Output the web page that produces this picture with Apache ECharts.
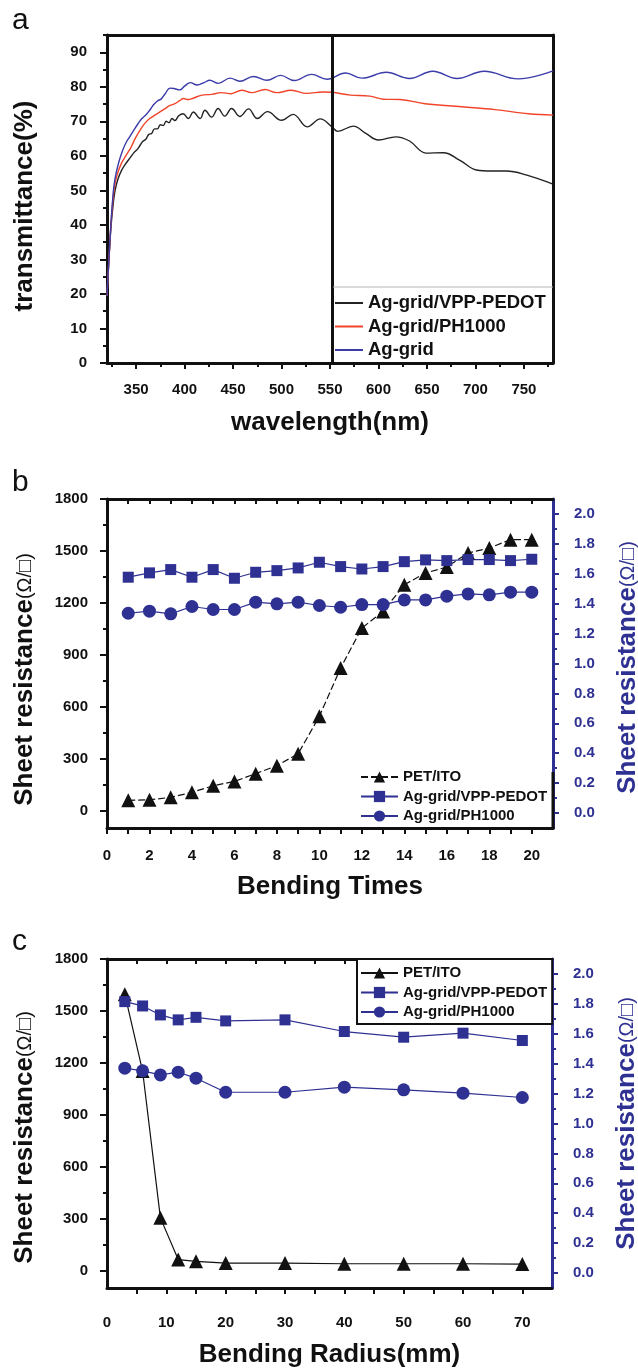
<!DOCTYPE html>
<html>
<head>
<meta charset="utf-8">
<script src="https://cdn.jsdelivr.net/npm/echarts@6/dist/echarts.min.js"></script>
<style>html,body{margin:0;padding:0;background:#fff;}#c{width:638px;height:1369px;}</style>
</head>
<body>
<div id="c"></div>
<script>
// ---------- Panel a: transmittance spectra ----------
const vppPedotWl = [320,322,324,326,328,331,335,340,344,348,351,354,357,360,363,366,369,372,375,378,381,384,387,390,394,398.5,404,409,416,421,428,434.5,441.5,448.5,457,466,475,485.5,500,512,526.5,540,552,558,574,587,600,618,632,649,667,684,701,717,732,753,780];
const vppPedotT  = [19.5,30,39,45,49.5,53,55.8,58,59.5,61,61.8,63,64.2,64.8,66.2,66.5,67.8,67.8,69,68.8,70,69.6,70.8,70.2,71.6,72.2,70.8,72.7,70.8,73.2,71.2,73.7,71.5,73.7,71.4,73.6,70.8,72.8,70.3,72,68.4,70.7,68.4,67.1,68.6,66.5,64.6,65.5,64.3,60.8,60.9,58.7,55.9,55.6,55.6,54.4,51.8];
const ph1000Wl = [320,322,324,326,328,331,335,340,345,349,354,359,364,369.5,375,380,385,390,395,399,404,408,418,428,438,448,459,469,483,495,510,526,543,552,571,591,605,622,648,686,720,755,780];
const ph1000T  = [19.5,30,40,47,51.5,55,57.9,60.3,62.6,65,67.4,69.4,70.8,71.8,72.8,73.7,74.6,75.1,76,76.6,76.3,76.6,77.6,77.8,78.3,78.0,79.0,78.3,79.2,78.3,79,78.1,78.5,78.4,77.6,77.3,76.4,76.3,75.1,74.2,73.4,72.2,71.8];
const agGridWl = [320,322,324,326,328,332,336,340,344,348,352,356,360,364,368,372,376,380,385,389,395,400,406,413,420,426,434.8,446.9,457,471,485,499,513,531,547,566,583,608,632,656,681,709,744,780];
const agGridT  = [19.5,30,40,48,53,58,61.5,64,65.8,67.6,69.3,70.8,71.8,73.2,74.8,75.9,76.5,78,79.6,79.5,79.1,80.2,81.2,80.5,81.2,81.9,81.0,82.5,81.6,83.0,81.9,83.3,81.8,83.6,82.2,84,82.5,84.2,82.4,84.5,82.4,84.5,82.3,84.6];
const dividerWl = 552;
const wlLabels = [350,400,450,500,550,600,650,700,750];
const wlMinor = [325,375,425,475,525,575,625,675,725,775];
const tLabels = [0,10,20,30,40,50,60,70,80,90];
const tMinor = [5,15,25,35,45,55,65,75,85,95];

// ---------- Panel b: bending times ----------
const bendTimes = [1,2,3,4,5,6,7,8,9,10,11,12,13,14,15,16,17,18,19,20];
const petItoB   = [60,63,77,106,144,169,214,260,329,545,824,1055,1151,1305,1373,1407,1488,1517,1565,1565];
const vppPedotB = [1.577,1.606,1.628,1.577,1.628,1.570,1.610,1.621,1.639,1.677,1.648,1.632,1.648,1.681,1.693,1.688,1.695,1.695,1.688,1.697];
const ph1000B   = [1.336,1.350,1.332,1.381,1.361,1.361,1.410,1.399,1.410,1.388,1.376,1.394,1.394,1.425,1.425,1.450,1.465,1.459,1.477,1.477];
const timesLabels = [0,2,4,6,8,10,12,14,16,18,20];
const timesTicks = [0,1,2,3,4,5,6,7,8,9,10,11,12,13,14,15,16,17,18,19,20];

// ---------- Panel c: bending radius ----------
const radius    = [3,6,9,12,15,20,30,40,50,60,70];
const petItoC   = [1597,1153,305,64,54,44,44,40,40,40,38];
const vppPedotC = [1.815,1.786,1.726,1.693,1.710,1.686,1.693,1.615,1.577,1.604,1.555];
const ph1000C   = [1.370,1.352,1.325,1.343,1.303,1.209,1.209,1.243,1.225,1.203,1.174];
const radiusLabels = [0,10,20,30,40,50,60,70];
const radiusTicks = [5,10,15,20,25,30,35,40,45,50,55,60,65,70];

// shared resistance axes
const rLeftLabels = [0,300,600,900,1200,1500,1800];
const rLeftMinor = [150,450,750,1050,1350,1650];
const rRightLabels = [0,0.2,0.4,0.6,0.8,1.0,1.2,1.4,1.6,1.8,2.0];
const rRightMinor = [0.1,0.3,0.5,0.7,0.9,1.1,1.3,1.5,1.7,1.9];

const FONT = '"Liberation Sans", Arial, "DejaVu Sans", sans-serif';
const NAVY = '#2e3192';
const BLACK = '#111';
const zip = (a, b) => a.map((v, i) => [v, b[i]]);

const grids = [
  {left: 107, top: 35, width: 446, height: 328, outerBoundsMode: 'none', containLabel: false},
  {left: 107, top: 499, width: 446, height: 329, outerBoundsMode: 'none', containLabel: false},
  {left: 107, top: 959, width: 445, height: 329, outerBoundsMode: 'none', containLabel: false}
];

function lineOnly(pos, grid, min, max, color) {
  return {type: 'value', gridIndex: grid, position: pos, min, max,
    axisLine: {show: true, onZero: false, lineStyle: {color: color || BLACK, width: 3}},
    axisTick: {show: false}, axisLabel: {show: false}, splitLine: {show: false}};
}
function tickAxis(pos, grid, min, max, ticks, len, inside, color) {
  return {type: 'value', gridIndex: grid, position: pos, min, max,
    axisLine: {show: false, onZero: false},
    axisTick: {show: true, inside: !!inside, length: len, customValues: ticks, lineStyle: {color: color || BLACK, width: 2}},
    axisLabel: {show: false}, splitLine: {show: false}};
}
function mainAxis(pos, grid, min, max, labels, ticks, tickLen, margin, fmt, color, name, nameGap, nameStyle) {
  const c = color || BLACK;
  return {type: 'value', gridIndex: grid, position: pos, min, max,
    name: name, nameLocation: 'middle', nameGap: nameGap, nameTextStyle: nameStyle,
    axisLine: {show: true, onZero: false, lineStyle: {color: c, width: 3}},
    axisTick: {show: true, length: tickLen, customValues: ticks, lineStyle: {color: c, width: 2}},
    axisLabel: {show: true, customValues: labels, margin: margin, formatter: fmt,
      fontFamily: FONT, fontSize: 15, fontWeight: 'bold', color: c},
    splitLine: {show: false}};
}
const fmtInt = v => String(Math.round(v));
const fmt1 = v => (Math.round(v * 10) / 10).toFixed(1);
const bigName = {fontFamily: FONT, fontSize: 26, fontWeight: 'bold', color: BLACK};
function resName(color, pad) {
  return {fontFamily: FONT, color: color, padding: pad,
    rich: {a: {fontFamily: FONT, fontSize: 26, fontWeight: 'bold', color: color},
           b: {fontFamily: FONT, fontSize: 20, fontWeight: 'normal', color: color}}};
}
const resTitle = '{a|Sheet resistance}{b|(Ω/□)}';

const xAxes = [
  // panel a: 0,1,2
  mainAxis('bottom', 0, 320, 780, wlLabels, wlLabels, 6, 19, fmtInt, BLACK, 'wavelength(nm)', 47, bigName),
  tickAxis('bottom', 0, 320, 780, wlMinor, 4, false),
  lineOnly('top', 0, 320, 780),
  // panel b: 3,4,5
  mainAxis('bottom', 1, 0, 21, timesLabels, timesTicks, 6, 20, fmtInt, BLACK, 'Bending Times', 46, bigName),
  tickAxis('top', 1, 0, 21, timesTicks.slice(1), 5, true),
  lineOnly('top', 1, 0, 21),
  // panel c: 6,7,8
  mainAxis('bottom', 2, 0, 75, radiusLabels, radiusTicks, 6, 27, fmtInt, BLACK, 'Bending Radius(mm)', 54, bigName),
  tickAxis('top', 2, 0, 75, radiusTicks, 5, true),
  lineOnly('top', 2, 0, 75)
];
const yAxes = [
  // panel a: 0,1,2
  mainAxis('left', 0, 0, 95, tLabels, tLabels, 7, 20, fmtInt, BLACK, 'transmittance(%)', 69, Object.assign({}, bigName, {padding: [0, 14, 0, 0]})),
  tickAxis('left', 0, 0, 95, tMinor, 4, false),
  lineOnly('right', 0, 0, 95),
  // panel b: 3 left, 4 left minor, 5 right, 6 right minor
  mainAxis('left', 1, -100, 1800, rLeftLabels, rLeftLabels, 7, 19, fmtInt, BLACK, resTitle, 69, resName(BLACK, [0, 32, 0, 0])),
  tickAxis('left', 1, -100, 1800, rLeftMinor, 4, false),
  mainAxis('right', 1, -0.1, 2.1, rRightLabels, rRightLabels, 6, 21, fmt1, NAVY, resTitle, 62, resName(NAVY, [0, 8, 0, 0])),
  tickAxis('right', 1, -0.1, 2.1, rRightMinor, 4, false, NAVY),
  // panel c: 7 left, 8 left minor, 9 right, 10 right minor
  mainAxis('left', 2, -100, 1800, rLeftLabels, rLeftLabels, 7, 19, fmtInt, BLACK, resTitle, 69, resName(BLACK, [0, 28, 0, 0])),
  tickAxis('left', 2, -100, 1800, rLeftMinor, 4, false),
  mainAxis('right', 2, -0.1, 2.1, rRightLabels, rRightLabels, 6, 21, fmt1, NAVY, resTitle, 62, resName(NAVY, [0, 0, 0, 0])),
  tickAxis('right', 2, -0.1, 2.1, rRightMinor, 4, false, NAVY)
];

function spectrum(name, wl, t, color, extra) {
  return Object.assign({type: 'line', name, xAxisIndex: 0, yAxisIndex: 0, data: zip(wl, t),
    symbol: 'none', smooth: 0.4, lineStyle: {color, width: 1.4}, itemStyle: {color}, z: 3}, extra || {});
}
function res(name, x, y, xi, yi, symbol, size, color, lineType) {
  return {type: 'line', name, xAxisIndex: xi, yAxisIndex: yi, data: zip(x, y),
    symbol, symbolSize: size, showSymbol: true,
    lineStyle: {color, width: 1.2, type: lineType || 'solid'}, itemStyle: {color}, z: 3};
}

const series = [
  spectrum('Ag-grid/VPP-PEDOT', vppPedotWl, vppPedotT, '#222', {
    markLine: {silent: true, symbol: 'none', label: {show: false},
      lineStyle: {color: BLACK, width: 3, type: 'solid'}, data: [{xAxis: dividerWl}]}
  }),
  spectrum('Ag-grid/PH1000', ph1000Wl, ph1000T, '#f0452a'),
  spectrum('Ag-grid', agGridWl, agGridT, '#3b3baa'),
  res('PET/ITO', bendTimes, petItoB, 3, 3, 'triangle', 14, BLACK, [7, 3]),
  res('Ag-grid/VPP-PEDOT ', bendTimes, vppPedotB, 3, 5, 'rect', 11, NAVY),
  res('Ag-grid/PH1000 ', bendTimes, ph1000B, 3, 5, 'circle', 13, NAVY),
  res('PET/ITO  ', radius, petItoC, 6, 7, 'triangle', 14, BLACK),
  res('Ag-grid/VPP-PEDOT  ', radius, vppPedotC, 6, 9, 'rect', 11, NAVY),
  res('Ag-grid/PH1000  ', radius, ph1000C, 6, 9, 'circle', 13, NAVY)
];

const legendText = {fontFamily: FONT, fontSize: 15, fontWeight: 'bold', color: BLACK, lineHeight: 15};
const option = {
  animation: false,
  backgroundColor: '#fff',
  title: [
    {text: 'a', left: 12, top: 6, padding: 0, textStyle: {fontFamily: FONT, fontSize: 30, fontWeight: 'normal', color: BLACK}},
    {text: 'b', left: 12, top: 468, padding: 0, textStyle: {fontFamily: FONT, fontSize: 30, fontWeight: 'normal', color: BLACK}},
    {text: 'c', left: 12, top: 927, padding: 0, textStyle: {fontFamily: FONT, fontSize: 30, fontWeight: 'normal', color: BLACK}}
  ],
  grid: grids,
  xAxis: xAxes,
  yAxis: yAxes,
  legend: [
    {data: ['Ag-grid/VPP-PEDOT', 'Ag-grid/PH1000', 'Ag-grid'], orient: 'vertical', left: 335, top: 293.5,
     icon: 'rect', itemWidth: 28, itemHeight: 2, itemGap: 4.5, itemTextGap: 4, padding: 0, selectedMode: false,
     textStyle: {fontFamily: FONT, fontSize: 18.5, fontWeight: 'bold', color: BLACK, lineHeight: 19}},
    {data: ['PET/ITO', 'Ag-grid/VPP-PEDOT ', 'Ag-grid/PH1000 '], orient: 'vertical', left: 360, top: 769.5,
     itemWidth: 37, itemHeight: 14, itemGap: 4.5, itemTextGap: 4, padding: 0, selectedMode: false,
     formatter: n => n.trim(), textStyle: legendText},
    {data: ['PET/ITO  ', 'Ag-grid/VPP-PEDOT  ', 'Ag-grid/PH1000  '], orient: 'vertical', left: 357, top: 959,
     itemWidth: 37, itemHeight: 14, itemGap: 4.5, itemTextGap: 4, padding: [6.5, 5, 4.5, 3], selectedMode: false,
     backgroundColor: '#fff', borderColor: BLACK, borderWidth: 2,
     formatter: n => n.trim(), textStyle: legendText}
  ],
  graphic: [
    {type: 'line', shape: {x1: 333, y1: 287, x2: 553, y2: 287}, style: {stroke: '#b5b5b5', lineWidth: 1}, z: 10},
    {type: 'line', shape: {x1: 553, y1: 772, x2: 553, y2: 829}, style: {stroke: BLACK, lineWidth: 3}, z: 10}
  ],
  series: series
};

const chart = echarts.init(document.getElementById('c'), null, {renderer: 'canvas'});
chart.setOption(option);
</script>
</body>
</html>
